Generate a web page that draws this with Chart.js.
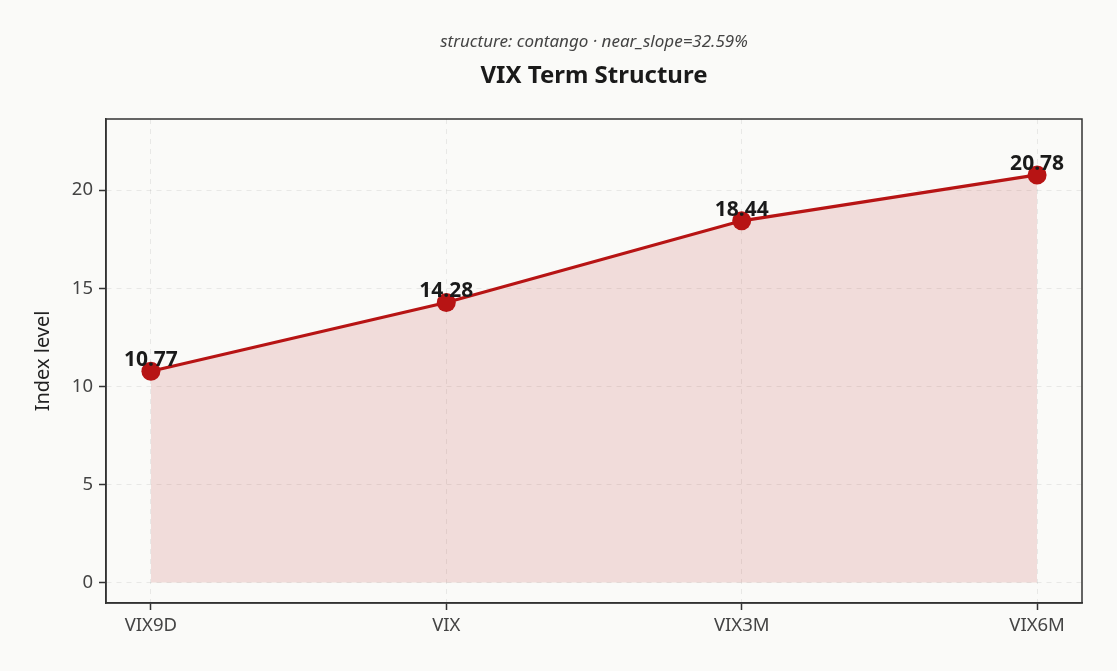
<!DOCTYPE html>
<html><head><meta charset="utf-8">
<script src="https://cdn.jsdelivr.net/npm/chart.js@4/dist/chart.umd.min.js"></script>
<style>html,body{margin:0;padding:0;background:#fafaf8;}#wrap{width:1117px;height:671px;}</style>
</head><body><div id="wrap"><canvas id="c" width="1117" height="671"></canvas></div>
<script>
const categories = ["VIX9D", "VIX", "VIX3M", "VIX6M"];
const levels = [10.77, 14.28, 18.44, 20.78];
const yTicks = [0, 5, 10, 15, 20];
const titleText = "VIX Term Structure";
const subtitleText = "structure: contango \u00b7 near_slope=32.59%";
const yLabel = "Index level";

const FONT = "'Noto Sans', 'Open Sans', sans-serif";
const points = levels.map((v, i) => ({x: i, y: v}));

const decor = {
  id: 'decor',
  beforeDraw(chart) {
    const ctx = chart.ctx;
    ctx.save();
    ctx.fillStyle = '#fafaf8';
    ctx.fillRect(0, 0, chart.width, chart.height);
    ctx.restore();
  },
  afterDatasetsDraw(chart) {
    const ctx = chart.ctx;
    const meta = chart.getDatasetMeta(0);
    ctx.save();
    ctx.font = "bold 21px " + FONT;
    ctx.fillStyle = '#1a1a1a';
    ctx.textAlign = 'center';
    ctx.textBaseline = 'alphabetic';
    meta.data.forEach((pt, i) => {
      ctx.fillText(levels[i].toFixed(2), pt.x, pt.y - 5);
    });
    ctx.restore();
  },
  afterDraw(chart) {
    const ctx = chart.ctx;
    const a = chart.chartArea;
    ctx.save();
    ctx.setLineDash([]);
    ctx.strokeStyle = '#333333';
    ctx.lineWidth = 1.5;
    ctx.strokeRect(a.left, a.top, a.right - a.left, a.bottom - a.top);
    ctx.fillStyle = '#1a1a1a';
    ctx.textAlign = 'center';
    ctx.textBaseline = 'middle';
    ctx.font = "bold 24px " + FONT;
    ctx.fillText(titleText, (a.left + a.right) / 2, 76);
    ctx.font = "italic 17px " + FONT;
    ctx.fillStyle = '#444444';
    ctx.fillText(subtitleText, (a.left + a.right) / 2, 42);
    ctx.translate(43, (a.top + a.bottom) / 2);
    ctx.rotate(-Math.PI / 2);
    ctx.font = "20px " + FONT;
    ctx.fillStyle = '#222222';
    ctx.fillText(yLabel, 0, 0);
    ctx.restore();
  }
};

const gridOpts = {
  color: 'rgba(0,0,0,0.07)',
  tickColor: '#333333',
  tickLength: 7,
  tickWidth: 1.5,
  lineWidth: 1
};

new Chart(document.getElementById('c'), {
  type: 'line',
  data: {
    datasets: [{
      data: points,
      borderColor: '#b71414',
      borderWidth: 3.2,
      backgroundColor: 'rgba(190,40,35,0.14)',
      fill: 'origin',
      pointRadius: 9.5,
      pointHoverRadius: 9.5,
      pointBackgroundColor: '#b71414',
      pointBorderColor: '#b71414',
      pointBorderWidth: 0,
      tension: 0
    }]
  },
  options: {
    responsive: false,
    animation: false,
    devicePixelRatio: 1,
    layout: {padding: {left: 0, top: 119, right: 35, bottom: 0}},
    plugins: {legend: {display: false}, tooltip: {enabled: false}, title: {display: false}},
    scales: {
      x: {
        type: 'linear',
        min: -0.152,
        max: 3.152,
        afterFit(s) { s.height = 68; },
        afterBuildTicks(s) { s.ticks = categories.map((c, i) => ({value: i})); },
        ticks: {
          callback: (v) => categories[v],
          color: '#444444',
          font: {family: FONT, size: 18.5},
          padding: 5,
          autoSkip: false,
          maxRotation: 0
        },
        grid: gridOpts,
        border: {color: '#333333', width: 1.5, dash: [5, 5]}
      },
      y: {
        min: -1.04,
        max: 23.63,
        afterFit(s) { s.width = 106; },
        afterBuildTicks(s) { s.ticks = yTicks.map(v => ({value: v})); },
        ticks: {
          color: '#444444',
          font: {family: FONT, size: 18.5},
          padding: 6
        },
        grid: gridOpts,
        border: {color: '#333333', width: 1.5, dash: [5, 5]}
      }
    }
  },
  plugins: [decor]
});
</script></body></html>
